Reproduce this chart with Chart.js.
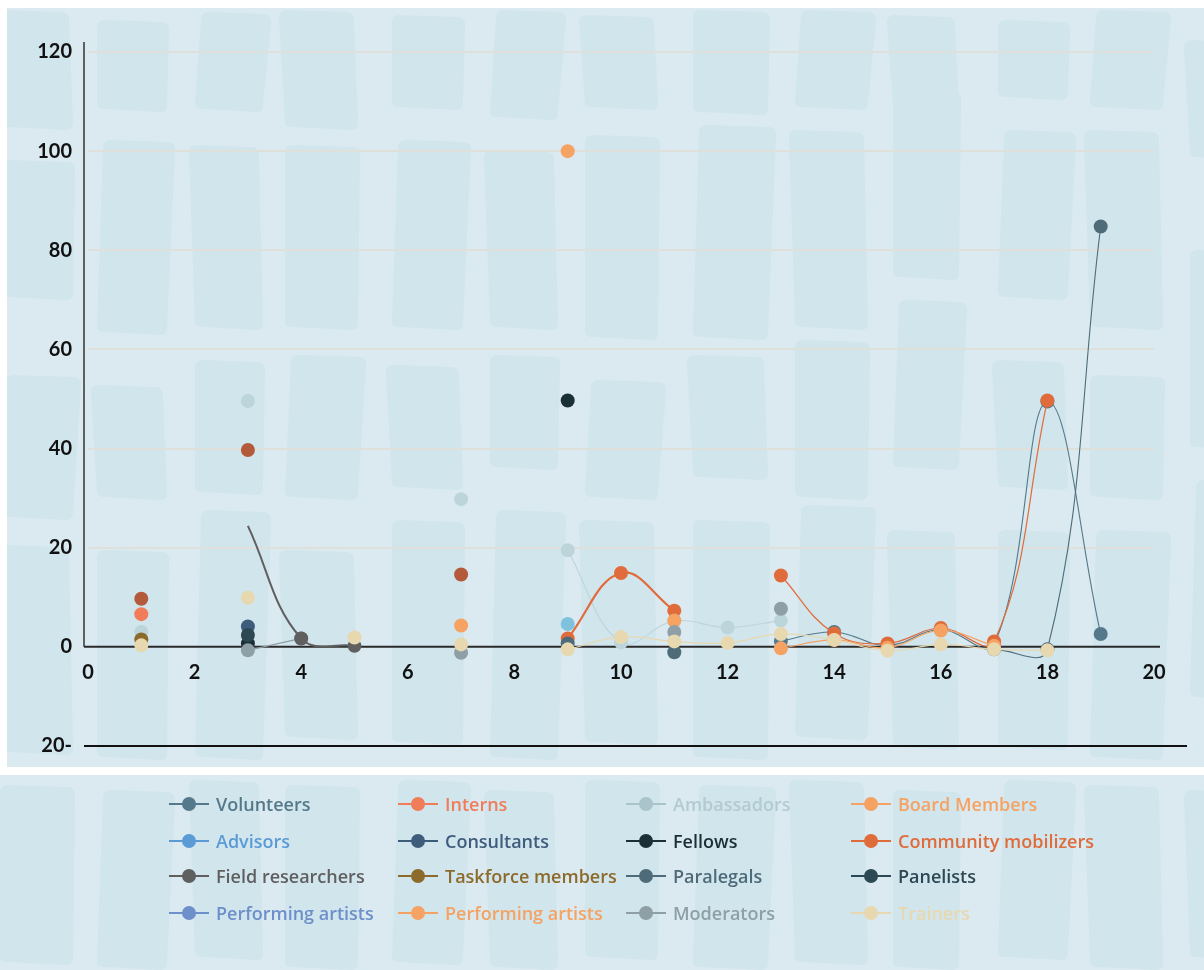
<!DOCTYPE html>
<html>
<head>
<meta charset="utf-8">
<script src="https://cdn.jsdelivr.net/npm/chart.js@4.4.1/dist/chart.umd.min.js"></script>
<style>
  html, body { margin: 0; padding: 0; background: #fff; }
  body { width: 1204px; height: 970px; position: relative; overflow: hidden; }
  #backdrop { position: absolute; left: 0; top: 0; }
  #chart { position: absolute; left: 0; top: 0; }
  #legend { position: absolute; left: 0; top: 775px; width: 1204px; height: 195px;
            font-family: 'Open Sans', 'Noto Sans', sans-serif; font-size: 18px; font-weight: 600; }
  .item { position: absolute; display: flex; align-items: center; white-space: nowrap; height: 24px; }
  .sw { position: relative; width: 40px; height: 14px; margin-right: 7px; flex: none; }
  .sw::before { content: ''; position: absolute; left: 0; right: 0; top: 6px; height: 2px; background: var(--c); }
  .sw::after { content: ''; position: absolute; left: 13px; top: 0; width: 14px; height: 14px; border-radius: 50%; background: var(--c); }
</style>
</head>
<body>
<canvas id="backdrop" width="1204" height="970"></canvas>
<canvas id="chart" width="1204" height="774"></canvas>
<div id="legend"></div>
<script>
// ---- data -------------------------------------------------------------
const xValues = [1, 2, 3, 4, 5, 6, 7, 8, 9, 10, 11, 12, 13, 14, 15, 16, 17, 18, 19];
const xTicks = [0, 2, 4, 6, 8, 10, 12, 14, 16, 18, 20];
const yTicks = [-20, 0, 20, 40, 60, 80, 100, 120];

//                      1     2     3     4     5     6     7     8     9     10    11    12    13    14    15    16    17    18    19
const volunteers     = [null, null, null, null, null, null, null, null, null, null, null, null, 1.2,  3.0,  0.3,  3.5,  0.5,  49.5, 2.6];
const interns        = [6.6,  null, null, null, null, null, null, null, null, null, null, null, null, null, null, null, null, null, null];
const ambassadors    = [3.0,  null, 49.6, null, null, null, 29.8, null, 19.5, 0.9,  5.2,  3.9,  5.3,  null, null, null, null, null, null];
const boardMembers   = [null, null, null, null, null, null, null, null, 100,  null, null, null, null, null, null, null, null, null, null];
const advisors       = [null, null, null, null, null, null, null, null, 4.6,  null, null, null, null, null, null, null, null, null, null];
const consultants    = [null, null, 4.1,  null, null, null, null, null, null, null, null, null, null, null, null, null, null, null, null];
const fellows        = [null, null, 0.7,  null, null, null, null, null, 49.7, null, null, null, null, null, null, null, null, null, null];
const mobilizers     = [null, null, null, null, null, null, null, null, 1.7,  14.9, 7.3,  null, 14.4, 2.7,  0.7,  3.8,  1.1,  49.7, null];
const fieldResearch  = [null, null, 24.4, 1.7,  0.2,  null, null, null, null, null, null, null, null, null, null, null, null, null, null];
const taskforce      = [1.5,  null, null, null, null, null, null, null, null, null, null, null, null, null, null, null, null, null, null];
const paralegals     = [null, null, null, null, null, null, null, null, 0.7,  null, -1.1, null, null, null, null, null, -0.5, -0.5, 84.8];
const panelists      = [null, null, 2.4,  null, null, null, null, null, null, null, null, null, null, null, null, null, null, null, null];
const performersBlue = [null, null, null, null, null, null, null, null, null, null, null, null, null, null, null, null, null, null, null];
const performersOrg  = [null, null, null, null, null, null, 4.3,  null, null, null, 5.3,  null, -0.3, 1.4,  -0.2, 3.3,  0.2,  null, null];
const moderators     = [null, null, -0.7, 1.7,  null, null, -1.2, null, null, null, 3.0,  null, 7.7,  null, null, null, null, null, null];
const trainers       = [0.3,  null, 9.9,  null, 1.9,  null, 0.5,  null, -0.5, 2.0,  1.1,  0.8,  2.6,  1.4,  -0.8, 0.5,  -0.5, -0.7, null];
const mobilizersEarly= [9.7,  null, 39.7, null, null, null, 14.6, null, null, null, null, null, null, null, null, null, null, null, null];

// ---- series definitions (label, values, colour, line width, stacking rank; higher rank = drawn on top)
const series = [
  { label: 'Volunteers',           values: volunteers,     color: '#55798a', width: 1.1, rank: 0 },
  { label: 'Interns',              values: interns,        color: '#f07c5a', width: 1.2, rank: 1 },
  { label: 'Ambassadors',          values: ambassadors,    color: '#bcd5db', width: 1.1, rank: 2, text: '#b2cbd1', swatch: '#a9c4ca' },
  { label: 'Board Members',        values: boardMembers,   color: '#f5a263', width: 1.2, rank: 3 },
  { label: 'Advisors',             values: advisors,       color: '#7fc2dd', width: 1.2, rank: 4, text: '#5b9bd5', swatch: '#5b9bd5' },
  { label: 'Consultants',          values: consultants,    color: '#3e5c7c', width: 1.2, rank: 5 },
  { label: 'Fellows',              values: fellows,        color: '#1b2f36', width: 1.2, rank: 6 },
  { label: 'Community mobilizers', values: mobilizers,     color: '#e06b3b', width: 1.2, rank: 7 },
  { label: 'Field researchers',    values: fieldResearch,  color: '#5f5f5f', width: 2,   rank: 15 },
  { label: 'Taskforce members',    values: taskforce,      color: '#8c6a2b', width: 1.2, rank: 8 },
  { label: 'Paralegals',           values: paralegals,     color: '#4d6b78', width: 1.1, rank: 9 },
  { label: 'Panelists',            values: panelists,      color: '#2c4852', width: 1.2, rank: 10 },
  { label: 'Performing artists',   values: performersBlue, color: '#6d8fca', width: 1.2, rank: 11 },
  { label: 'Performing artists',   values: performersOrg,  color: '#f5a263', width: 1.1, rank: 12 },
  { label: 'Moderators',           values: moderators,     color: '#8e9fa5', width: 1.4, rank: 14 },
  { label: 'Trainers',             values: trainers,       color: '#e8d8b0', width: 1.2, rank: 16 },
  { label: 'Community mobilizers', values: mobilizersEarly,color: '#b35a3a', width: 1.2, rank: 13, legend: false }
];

// ---- decorative brush-stroke backdrop ---------------------------------
const strokeColumns = [
  [0, 75, [[10, 130], [160, 300], [375, 520], [545, 755], [785, 965]]],
  [97, 72, [[20, 112], [140, 335], [385, 500], [550, 760], [790, 970]]],
  [195, 70, [[12, 112], [145, 330], [360, 495], [510, 760], [780, 960]]],
  [285, 75, [[10, 130], [145, 330], [355, 500], [550, 740], [785, 970]]],
  [392, 73, [[15, 110], [140, 330], [365, 490], [520, 745], [780, 965]]],
  [490, 70, [[10, 120], [150, 330], [355, 470], [510, 760], [790, 970]]],
  [585, 75, [[15, 110], [135, 340], [380, 500], [520, 745], [780, 960]]],
  [693, 77, [[10, 115], [125, 340], [355, 480], [520, 760], [785, 970]]],
  [795, 75, [[10, 110], [130, 330], [340, 500], [505, 740], [780, 965]]],
  [893, 68, [[15, 115], [90, 280], [300, 470], [530, 750], [790, 970]]],
  [998, 72, [[20, 100], [130, 300], [360, 490], [530, 750], [780, 960]]],
  [1090, 75, [[10, 110], [130, 330], [375, 500], [530, 760], [785, 970]]],
  [1190, 60, [[40, 160], [250, 450], [480, 700], [790, 960]]]
];

function drawBackdrop() {
  const g = document.getElementById('backdrop').getContext('2d');
  g.fillStyle = '#daeaf0';
  g.fillRect(0, 0, 1204, 970);
  g.fillStyle = '#d1e5ed';
  strokeColumns.forEach(([x, w, blocks], ci) => {
    blocks.forEach(([y0, y1], bi) => {
      const skew = ((ci + bi) % 3 - 1) * 6;
      const r = 8;
      g.beginPath();
      g.moveTo(x + skew + r, y0);
      g.lineTo(x + skew + w - r, y0 + 2);
      g.quadraticCurveTo(x + skew + w, y0 + 2, x + skew + w, y0 + r + 2);
      g.lineTo(x + w - 2, y1 - r);
      g.quadraticCurveTo(x + w - 2, y1, x + w - r, y1);
      g.lineTo(x + r, y1 - 3);
      g.quadraticCurveTo(x, y1 - 3, x, y1 - r);
      g.lineTo(x + skew, y0 + r);
      g.quadraticCurveTo(x + skew, y0, x + skew + r, y0);
      g.closePath();
      g.fill();
    });
  });
  g.fillStyle = '#ffffff';
  g.fillRect(0, 0, 1204, 8);
  g.fillRect(0, 0, 7, 767);
  g.fillRect(0, 767, 1204, 8);
}

// ---- axis rules: y axis, zero line and the lower boundary --------------
const axisRules = {
  id: 'axisRules',
  beforeDatasetsDraw(chart) {
    const { ctx, chartArea, scales } = chart;
    const y0 = scales.y.getPixelForValue(0);
    const yMin = scales.y.getPixelForValue(-20);
    const left = chartArea.left - 4;
    ctx.save();
    ctx.strokeStyle = '#333333';
    ctx.lineWidth = 1.5;
    ctx.beginPath();
    ctx.moveTo(left, chartArea.top - 10);
    ctx.lineTo(left, y0);
    ctx.stroke();
    ctx.strokeStyle = '#2a2a2a';
    ctx.lineWidth = 2;
    ctx.beginPath();
    ctx.moveTo(left, y0);
    ctx.lineTo(chartArea.right + 6, y0);
    ctx.stroke();
    ctx.strokeStyle = '#111111';
    ctx.beginPath();
    ctx.moveTo(left, yMin);
    ctx.lineTo(chartArea.right + 33, yMin);
    ctx.stroke();
    ctx.restore();
  }
};

function buildLegend(chart) {
  const host = document.getElementById('legend');
  const colX = [169, 398, 626, 851];
  const rowY = [804, 841, 876, 913];
  let n = 0;
  chart.data.datasets.forEach(ds => {
    if (ds.showInLegend === false) return;
    const item = document.createElement('div');
    item.className = 'item';
    item.style.left = colX[n % 4] + 'px';
    item.style.top = (rowY[Math.floor(n / 4)] - 775 - 12) + 'px';
    const sw = document.createElement('span');
    sw.className = 'sw';
    sw.style.setProperty('--c', ds.legendSwatch);
    const txt = document.createElement('span');
    txt.textContent = ds.label;
    txt.style.color = ds.legendText;
    item.appendChild(sw);
    item.appendChild(txt);
    host.appendChild(item);
    n++;
  });
}

function render() {
  drawBackdrop();
  const tickFont = { family: 'Lato', size: 20, weight: '700' };
  const datasets = series.map(s => ({
    label: s.label,
    data: xValues.map((x, i) => ({ x, y: s.values[i] })),
    borderColor: s.color,
    backgroundColor: s.color,
    pointBackgroundColor: s.color,
    pointBorderWidth: 0,
    pointRadius: s.values === fieldResearch ? (c => (c.raw && c.raw.x === 3 ? 0 : 7)) : 7,
    pointHoverRadius: 7,
    borderWidth: s.width,
    tension: 0.4,
    spanGaps: false,
    order: 100 - s.rank,
    segment: s.values === mobilizers ? { borderWidth: c => (c.p1.parsed.x <= 11 ? 2.2 : 1.2) } : undefined,
    showInLegend: s.legend !== false,
    legendSwatch: s.swatch || s.color,
    legendText: s.text || s.color
  }));

  const chart = new Chart(document.getElementById('chart'), {
    type: 'line',
    data: { datasets },
    options: {
      responsive: false,
      animation: false,
      devicePixelRatio: 1,
      layout: { padding: { left: 0, right: 50, top: 52, bottom: 22 } },
      plugins: { legend: { display: false }, tooltip: { enabled: false } },
      scales: {
        x: {
          type: 'linear', min: 0, max: 20,
          position: { y: 0 },
          grid: { display: false, drawTicks: false },
          border: { display: false },
          afterBuildTicks: s => { s.ticks = xTicks.map(v => ({ value: v })); },
          afterFit: s => { s.height = 0; },
          ticks: { padding: 14, color: '#111', font: tickFont, maxRotation: 0, autoSkip: false }
        },
        y: {
          type: 'linear', min: -20, max: 120,
          grid: { color: c => (c.tick && c.tick.value > 0 ? '#e0e0da' : 'rgba(0,0,0,0)'), lineWidth: 2, drawTicks: false },
          border: { display: false },
          afterBuildTicks: s => { s.ticks = yTicks.map(v => ({ value: v })); },
          afterFit: s => { s.width = 88; },
          ticks: { padding: 16, color: '#111', font: tickFont,
                   callback: v => (v < 0 ? Math.abs(v) + '-' : String(v)) }
        }
      }
    },
    plugins: [axisRules]
  });
  buildLegend(chart);
}

Promise.all([
  document.fonts.load('700 20px Lato'),
  document.fonts.load('600 18px "Open Sans"')
]).catch(() => {}).then(render);
</script>
</body>
</html>
